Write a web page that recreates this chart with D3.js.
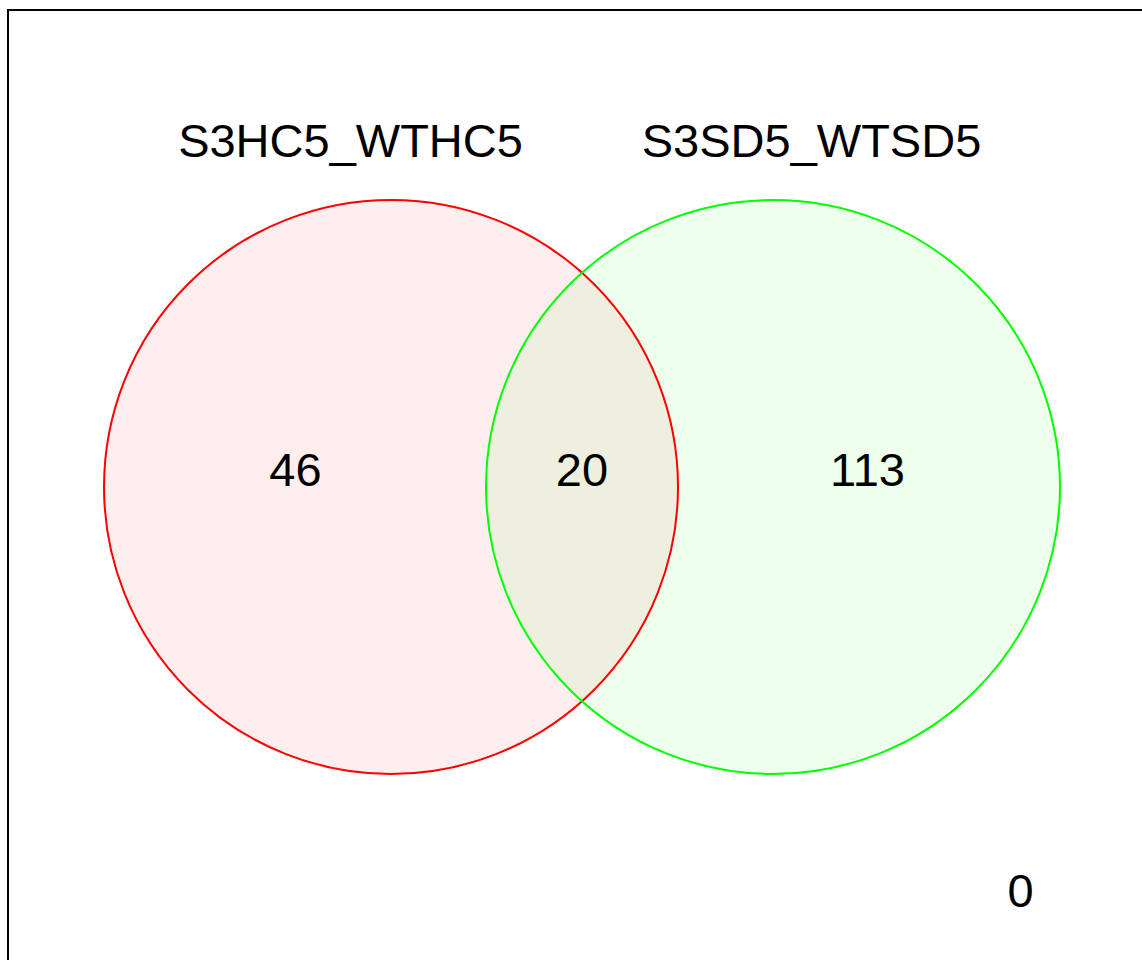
<!DOCTYPE html>
<html>
<head>
<meta charset="utf-8">
<script src="https://cdn.jsdelivr.net/npm/d3@7"></script>
<style>
html,body{margin:0;padding:0;background:#fff;}
svg{display:block;}
text{font-family:Arial,"Liberation Sans",Helvetica,sans-serif;fill:#000;}
</style>
</head>
<body>
<svg id="chart" width="1142" height="960"></svg>
<script>
// Data
const setNames = ["S3HC5_WTHC5", "S3SD5_WTSD5"];
const setColors = ["#ff0000", "#00ff00"];
const regionLabels = ["46", "20", "113"];   // only left, both, only right
const outsideCount = ["0"];

// Layout in unit space (circles drawn equal, not scaled)
const circleCx = [0, 1];
const regionX = [-0.25, 0.5, 1.25];

const svg = d3.select("#chart");
const W = 1142, H = 960;

// x scale: unit space -> pixels
const x = d3.scaleLinear().domain([0, 1]).range([391, 773]);
const r = 287;
const cy = 487;

// frame
svg.append("rect")
  .attr("x", 8).attr("y", 10)
  .attr("width", W + 20).attr("height", H + 20)
  .attr("fill", "none").attr("stroke", "#000").attr("stroke-width", 2);

// circles fill
svg.selectAll("circle.fill").data(setNames).join("circle")
  .attr("class", "fill")
  .attr("cx", (d, i) => x(circleCx[i]))
  .attr("cy", cy).attr("r", r)
  .attr("fill", (d, i) => setColors[i])
  .attr("fill-opacity", 0.067)
  .attr("stroke", "none");

// circle outlines
svg.selectAll("circle.outline").data(setNames).join("circle")
  .attr("class", "outline")
  .attr("cx", (d, i) => x(circleCx[i]))
  .attr("cy", cy).attr("r", r)
  .attr("fill", "none")
  .attr("stroke", (d, i) => setColors[i])
  .attr("stroke-width", 2);

// set names
const nameX = [350.5, 811.5];
svg.selectAll("text.name").data(setNames).join("text")
  .attr("class", "name")
  .attr("x", (d, i) => nameX[i])
  .attr("y", 157)
  .attr("text-anchor", "middle")
  .attr("font-size", 47)
  .text(d => d);

// region counts
svg.selectAll("text.count").data(regionLabels).join("text")
  .attr("class", "count")
  .attr("x", (d, i) => x(regionX[i]) + [0, 0, -1][i])
  .attr("y", 486)
  .attr("text-anchor", "middle")
  .attr("font-size", 47)
  .text(d => d);

// outside count
svg.append("text")
  .attr("x", 1020.5).attr("y", 907)
  .attr("text-anchor", "middle")
  .attr("font-size", 47)
  .text(outsideCount[0]);
</script>
</body>
</html>
